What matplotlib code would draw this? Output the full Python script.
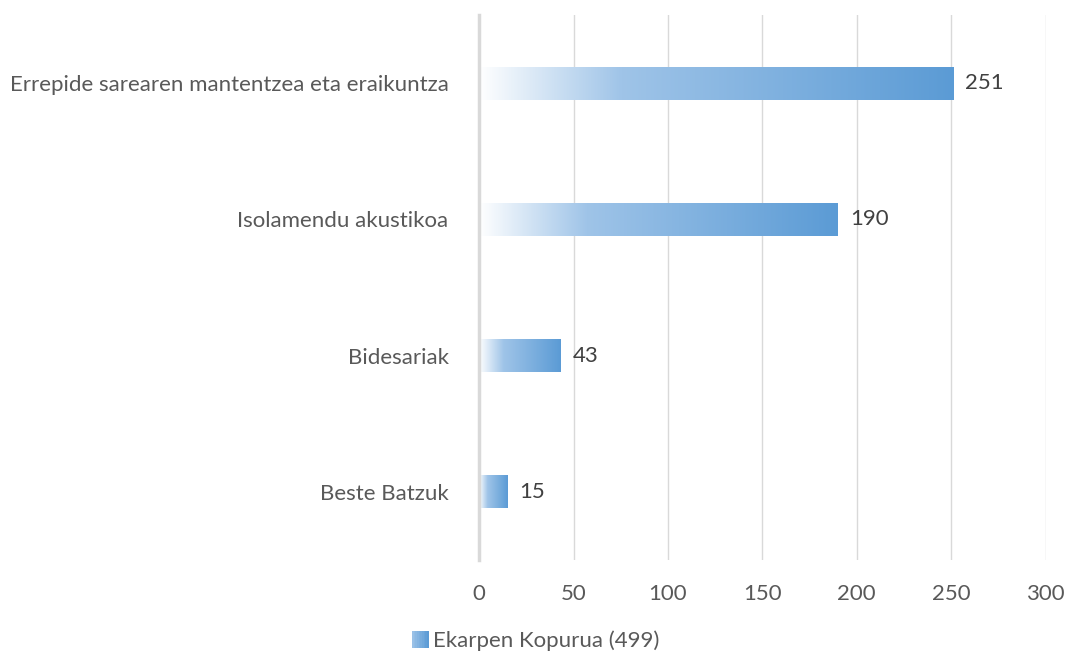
import numpy as np
import matplotlib
matplotlib.use("Agg")
import matplotlib.pyplot as plt
from matplotlib.colors import LinearSegmentedColormap
from matplotlib.legend_handler import HandlerBase
from matplotlib.patches import Rectangle

categories = ["Errepide sarearen mantentzea eta eraikuntza", "Isolamendu akustikoa",
              "Bidesariak", "Beste Batzuk"]
values = [251, 190, 43, 15]
series_name = "Ekarpen Kopurua (499)"
xticks = [0, 50, 100, 150, 200, 250, 300]

plt.rcParams['font.family'] = ['Lato', 'DejaVu Sans']
txt = "#595959"
grid = "#d9d9d9"
fs = 16

cmap = LinearSegmentedColormap.from_list("g", [(0, "#ffffff"), (0.3, "#9fc4e8"), (1, "#5b9bd5")])

fig = plt.figure(figsize=(10.67, 6.55), dpi=100)
ax = fig.add_axes([0.449, 0.145, 0.531, 0.832])

h = 0.24
ys = np.arange(len(categories))
grad = np.linspace(0, 1, 256).reshape(1, -1)
for y, v in zip(ys, values):
    ax.imshow(grad, cmap=cmap, aspect='auto', extent=[0, v, y + h / 2, y - h / 2],
              interpolation='bilinear', zorder=2)
    ax.text(v + 6.5, y, str(v), va='center', ha='left', fontsize=fs, color="#404040")

ax.set_xlim(0, 300)
ax.set_ylim(len(categories) - 0.5, -0.5)
ax.set_xticks(xticks)
ax.set_yticks(ys)
ax.set_yticklabels(categories)
ax.xaxis.grid(True, color=grid, linewidth=1, zorder=0)
ax.set_axisbelow(True)
for s in ["top", "right", "bottom"]:
    ax.spines[s].set_visible(False)
ax.spines["left"].set_color(grid)
ax.spines["left"].set_linewidth(2.5)
ax.spines["left"].set_zorder(3)
ax.tick_params(axis='both', length=0, labelsize=fs, labelcolor=txt)
ax.tick_params(axis='y', pad=22)
ax.tick_params(axis='x', pad=17)


class GradHandler(HandlerBase):
    def create_artists(self, legend, orig_handle, xdescent, ydescent, width, height, fontsize, trans):
        arts = []
        n = 10
        w = height * 1.05
        x0 = width - w
        for i in range(n):
            c = cmap(0.35 + 0.65 * i / (n - 1))
            r = Rectangle((x0 - xdescent + i * w / n, -ydescent - 0.05 * height), w / n + 0.3, height * 1.05,
                          facecolor=c, edgecolor='none', transform=trans)
            arts.append(r)
        return arts


handle = Rectangle((0, 0), 1, 1)
fig.legend([handle], [series_name], handler_map={Rectangle: GradHandler()},
           loc='center', bbox_to_anchor=(0.502, 0.022), frameon=False,
           fontsize=fs, labelcolor=txt, handlelength=0.75, handletextpad=0.2)

fig.savefig("out.png", dpi=100)
